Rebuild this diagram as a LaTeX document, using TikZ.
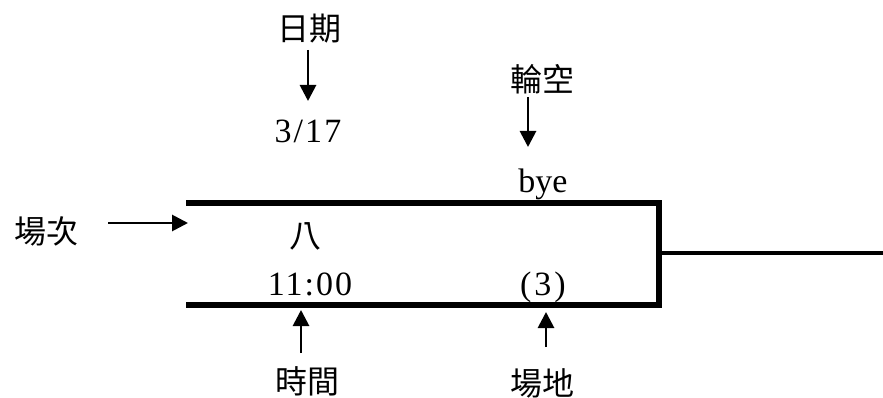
\documentclass[tikz,border=0pt]{standalone}
\usepackage{fontspec}
\setmainfont{Liberation Serif}
\newfontfamily\cjk{Noto Sans CJK TC}
\newfontfamily\spaced[LetterSpace=6]{Liberation Serif}
\usetikzlibrary{arrows.meta}
\begin{document}
\begin{tikzpicture}[x=1pt,y=-1pt,
  cjklabel/.style={inner sep=0pt,font=\cjk\fontsize{32}{36}\selectfont},
  latlabel/.style={inner sep=0pt,anchor=base,font=\fontsize{34}{38}\selectfont},
  pointer/.style={line width=2.8pt,-{Triangle[length=16pt,width=16pt]}},
  bracketline/.style={line width=5.5pt,line cap=rect,line join=miter}]
\useasboundingbox (0,0) rectangle (883,398);

% bracket
\coordinate (tl) at (189,203);
\coordinate (tr) at (659,203);
\coordinate (br) at (659,305);
\coordinate (bl) at (189,305);
\coordinate (mid) at (659,253);
\coordinate (out) at (883,253);
\draw[bracketline] (tl) -- (tr) -- (br) -- (bl);
\draw[line width=4.8pt] (mid) -- (out);

% labels
\node[cjklabel] (riqi) at (309,29) {日期};
\node[latlabel] (date) at (308,143) {\spaced 3/17};
\node[cjklabel] (lunkong) at (542,79) {輪空};
\node[latlabel] (bye) at (543,193) {bye};
\node[cjklabel] (changci) at (46,231) {場次};
\node[cjklabel] (ba) at (305,236) {八};
\node[latlabel] (time) at (310,295) {\spaced 11\kern2pt:\kern2pt00};
\node[latlabel] (court) at (543,295) {(\kern3pt3\kern3pt)};
\node[cjklabel] (shijian) at (307,381) {時間};
\node[cjklabel] (changdi) at (542,383) {場地};

% arrows
\coordinate (a1s) at (308,50);  \coordinate (a1e) at (308,101);
\coordinate (a2s) at (528,97);  \coordinate (a2e) at (528,147);
\coordinate (a3s) at (108,223); \coordinate (a3e) at (188,223);
\coordinate (a4s) at (301,353); \coordinate (a4e) at (301,310);
\coordinate (a5s) at (546,347); \coordinate (a5e) at (546,312);
\draw[pointer] (a1s) -- (a1e);
\draw[pointer] (a2s) -- (a2e);
\draw[pointer] (a3s) -- (a3e);
\draw[pointer] (a4s) -- (a4e);
\draw[pointer] (a5s) -- (a5e);
\end{tikzpicture}
\end{document}
